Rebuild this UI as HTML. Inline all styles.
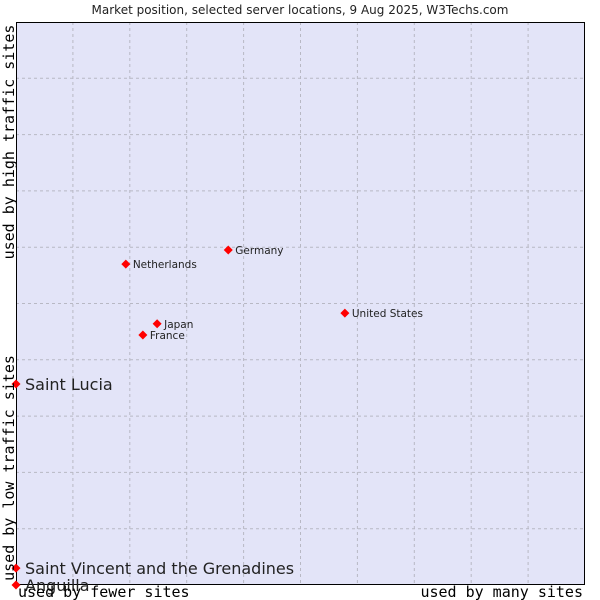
<!DOCTYPE html>
<html><head><meta charset="utf-8"><style>
html,body{margin:0;padding:0;background:#fff;}
svg{display:block;}
</style></head><body>
<svg id="chart" width="600" height="600" xmlns="http://www.w3.org/2000/svg">
<text x="300" y="14" text-anchor="middle" font-family="DejaVu Sans, sans-serif" font-size="12" fill="#222">Market position, selected server locations, 9 Aug 2025, W3Techs.com</text>
<rect x="16" y="22" width="569" height="563" fill="#e3e4f8"/>
<g id="grid"></g>
<rect x="16.5" y="22.5" width="568" height="562" fill="none" stroke="#000" stroke-width="1"/>
<g id="points"></g>
<text transform="translate(14,142) rotate(-90)" text-anchor="middle" font-family="DejaVu Sans Mono, monospace" font-size="15" fill="#000">used by high traffic sites</text>
<text transform="translate(14,468) rotate(-90)" text-anchor="middle" font-family="DejaVu Sans Mono, monospace" font-size="15" fill="#000">used by low traffic sites</text>
<text x="18" y="597" font-family="DejaVu Sans Mono, monospace" font-size="15" fill="#000">used by fewer sites</text>
<text x="583" y="597" text-anchor="end" font-family="DejaVu Sans Mono, monospace" font-size="15" fill="#000">used by many sites</text>
</svg>
<script>
const names = ["Germany","Netherlands","United States","Japan","France","Saint Lucia","Saint Vincent and the Grenadines","Anguilla"];
const xValues = [37.3,19.3,57.8,24.8,22.3,0,0,0];
const yValues = [59.5,57.0,48.3,46.4,44.4,35.7,3.0,0];
const big = [false,false,false,false,false,true,true,true];
const gridTicks = [10,20,30,40,50,60,70,80,90];
const NS="http://www.w3.org/2000/svg";
const X0=16,X1=585,Y0=585,Y1=22;
function sx(v){return X0+(X1-X0)*v/100;}
function sy(v){return Y0-(Y0-Y1)*v/100;}
const grid=document.getElementById('grid');
gridTicks.forEach(t=>{
  const v=document.createElementNS(NS,'line');
  v.setAttribute('x1',sx(t));v.setAttribute('x2',sx(t));v.setAttribute('y1',Y1);v.setAttribute('y2',Y0);
  v.setAttribute('stroke','#b8b8c4');v.setAttribute('stroke-dasharray','3,3');
  
  
  grid.appendChild(v);
  const h=document.createElementNS(NS,'line');
  h.setAttribute('y1',sy(t));h.setAttribute('y2',sy(t));h.setAttribute('x1',X0);h.setAttribute('x2',X1);
  h.setAttribute('stroke','#b8b8c4');h.setAttribute('stroke-dasharray','3,3');
  
  
  grid.appendChild(h);
});
const pts=document.getElementById('points');
names.forEach((n,i)=>{
  const x=sx(xValues[i]),y=sy(yValues[i]);
  const p=document.createElementNS(NS,'polygon');
  p.setAttribute('points',`${x},${y-4.5} ${x+4.5},${y} ${x},${y+4.5} ${x-4.5},${y}`);
  p.setAttribute('fill','#f00');
  
  
  pts.appendChild(p);
  const t=document.createElementNS(NS,'text');
  t.setAttribute('x',x+(big[i]?9:7));
  t.setAttribute('y',y+(big[i]?6:4));
  t.setAttribute('font-family','DejaVu Sans, sans-serif');
  t.setAttribute('font-size',big[i]?'16':'10.5');
  t.setAttribute('fill','#222');
  t.textContent=n;
  
  
  pts.appendChild(t);
});
</script>
</body></html>
